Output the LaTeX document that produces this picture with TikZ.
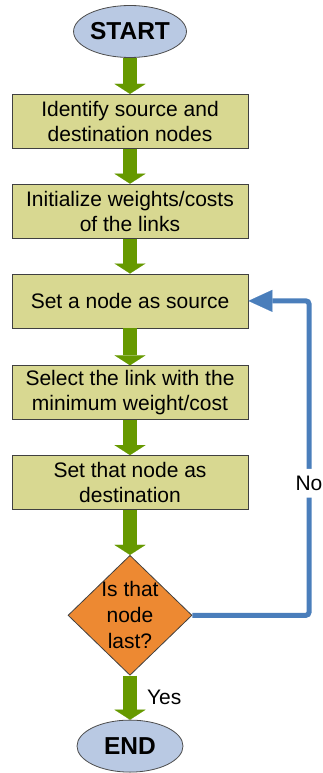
\documentclass[tikz,border=0pt]{standalone}
\usepackage{fontspec}
\setmainfont{Liberation Sans}
\usetikzlibrary{arrows.meta,positioning,shapes.geometric}

\definecolor{termfill}{RGB}{185,201,227}
\definecolor{boxfill}{RGB}{216,216,145}
\definecolor{decfill}{RGB}{237,137,50}
\definecolor{flowgreen}{RGB}{102,153,0}
\definecolor{loopblue}{RGB}{74,126,187}

\begin{document}
\begin{tikzpicture}[
  term/.style={ellipse, draw=black!70, fill=termfill, line width=0.8pt, minimum width=106pt, minimum height=52pt, inner sep=0pt, font=\fontsize{24.5}{28}\selectfont\bfseries},
  box/.style={draw=black!75, fill=boxfill, line width=0.8pt, minimum width=236pt, minimum height=54pt, inner sep=0pt, align=center, font=\fontsize{21}{25}\selectfont},
  dec/.style={diamond, draw=black!75, fill=decfill, line width=0.8pt, minimum width=124pt, minimum height=120pt, inner sep=-4pt, align=center, font=\fontsize{21}{26}\selectfont},
  flow/.style={draw=flowgreen, line width=14pt, -{Triangle[width=31pt,length=10pt,line width=0.1pt]}},
  back/.style={draw=loopblue, line width=5pt, rounded corners=3pt, -{Triangle[width=22pt,length=24pt,line width=0.1pt]}},
  lbl/.style={inner sep=2pt, font=\fontsize{21}{25}\selectfont}
]
\useasboundingbox (0,0) rectangle (322pt,-773pt);

\node[term] (start) at (130pt,-31.5pt) {START};
\node[box, below=36pt of start] (ident) {Identify source and\\destination nodes};
\node[box, below=35pt of ident] (init) {Initialize weights/costs\\of the links};
\node[box, below=35pt of init] (setsrc) {Set a node as source};
\node[box, below=37pt of setsrc] (select) {Select the link with the\\minimum weight/cost};
\node[box, below=35pt of select] (setdst) {Set that node as\\destination};
\node[dec, below=45pt of setdst] (last) {Is that\\node\\last?};
\node[term, below=44pt of last] (stop) {END};

\draw[flow] (start) -- (ident);
\draw[flow] (ident) -- (init);
\draw[flow] (init) -- (setsrc);
\draw[flow] (setsrc) -- (select);
\draw[flow] (select) -- (setdst);
\draw[flow] (setdst) -- (last);
\draw[flow] (last) -- node[lbl, right=8pt] {Yes} (stop);

% loop back when not last
\coordinate (rt) at (309pt,0pt);
\draw[back] (last.east) -- (last.east -| rt)
  -- node[lbl, pos=0.42, fill=white, inner ysep=7pt] {No} (setsrc.east -| rt)
  -- (setsrc.east);

\end{tikzpicture}
\end{document}
